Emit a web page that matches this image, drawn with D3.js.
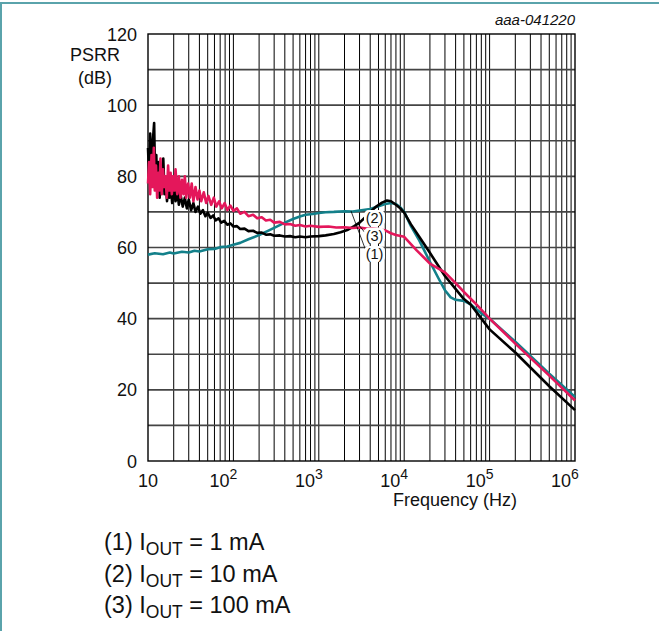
<!DOCTYPE html>
<html>
<head>
<meta charset="utf-8">
<script src="https://cdn.jsdelivr.net/npm/d3@7"></script>
<style>
  body { margin: 0; padding: 0; background: #fff; }
  svg { display: block; font-family: Arial, "Liberation Sans", sans-serif; }
</style>
</head>
<body>
<svg id="chart" width="659" height="631"></svg>
<script>
// axis ticks
const yTicks = [0, 20, 40, 60, 80, 100, 120];
const xDecades = [1, 2, 3, 4, 5, 6];

// (1) IOUT = 1 mA  -> black
const curve1 = [
  [10, 88], [10.3, 80], [10.6, 92], [11, 82], [11.4, 90], [11.8, 95], [12.1, 80], [12.5, 86],
  [12.9, 76], [13.3, 84], [13.7, 74], [14.1, 80], [14.6, 76], [15.1, 85], [15.6, 75], [16.1, 79],
  [16.7, 73], [17.3, 78], [17.9, 74], [18.5, 77], [19.2, 72.5], [20, 77], [21, 73], [22, 76],
  [23, 72], [24, 75], [25.5, 71.5], [27, 74], [28.5, 71], [30, 73.5], [32, 70.5], [34, 72.5],
  [36, 70], [38.5, 71.5], [41, 69.5], [44, 70.5], [47, 68.8], [50, 69.8], [54, 68.3], [58, 69],
  [62, 67.6], [67, 68.2], [72, 67], [78, 67.5], [85, 66.4], [92, 66.8], [100, 65.9], [110, 66],
  [120, 65.2], [135, 65.3], [150, 64.6], [170, 64.7], [190, 64.1], [215, 64.2], [240, 63.6],
  [270, 63.7], [300, 63.3], [350, 63.4], [400, 63.1], [460, 63.2], [530, 62.9], [600, 63.1],
  [700, 62.9], [800, 63.1], [1000, 63.2], [1200, 63.4], [1500, 63.8], [1800, 64.3], [2200, 65],
  [2600, 66], [3000, 67], [3500, 68.5], [4000, 70], [4700, 71.5], [5500, 72.6], [6300, 73.2],
  [7000, 73], [8000, 72], [9000, 71], [10000, 69.8], [12000, 66.5], [15000, 63], [20000, 58.5],
  [30000, 52], [50000, 45.5], [60000, 44], [100000, 37], [200000, 30.5], [500000, 21], [1000000, 14.3]
];

// (2) IOUT = 10 mA -> teal
const curve2 = [
  [10, 58], [12, 58.4], [15, 58.1], [18, 58.6], [20, 58.3], [25, 58.8], [30, 58.6], [35, 59.1],
  [40, 58.9], [50, 59.5], [60, 59.6], [70, 60.1], [85, 60.3], [100, 60.8], [120, 61.3],
  [150, 62.3], [200, 63.5], [250, 64.6], [300, 65.5], [400, 67], [500, 68], [600, 68.7],
  [700, 69.2], [850, 69.4], [1000, 69.7], [1200, 69.9], [1500, 70], [2000, 70.2], [2500, 70.1],
  [3000, 70.4], [4000, 70.8], [5000, 71.6], [6000, 72.2], [7000, 72.5], [8000, 72.2], [9000, 71.3],
  [10000, 70], [12000, 66], [15000, 62], [20000, 56], [25000, 51.5], [30000, 48], [35000, 46],
  [40000, 45.3], [50000, 45], [60000, 44], [80000, 41.5], [100000, 40], [200000, 33.5],
  [500000, 24.5], [1000000, 18]
];

// (3) IOUT = 100 mA -> pink
const curve3 = [
  [10, 78], [10.3, 84], [10.6, 75], [11, 86], [11.3, 77], [11.7, 88], [12, 76], [12.4, 83],
  [12.8, 74], [13.2, 81], [13.6, 76], [14, 85], [14.5, 75], [15, 82], [15.5, 77], [16, 80],
  [16.6, 74], [17.2, 83], [17.8, 76], [18.4, 81], [19, 75], [19.7, 80], [20.4, 76], [21, 82],
  [22, 75], [23, 80], [24, 74], [25, 79], [26, 75], [27, 80], [28, 74], [29.5, 78], [31, 74],
  [32.5, 78], [34, 73], [36, 77], [38, 73.5], [40, 76], [42, 73], [45, 75.5], [48, 72.5],
  [51, 74.5], [55, 72], [59, 74], [63, 71.5], [68, 73], [73, 71], [79, 72.5], [85, 70.5],
  [92, 71.8], [100, 70.3], [110, 71], [120, 69.5], [135, 70], [150, 68.8], [170, 69.2],
  [190, 68.2], [215, 68.5], [240, 67.6], [270, 67.8], [300, 67], [350, 67.2], [400, 66.5],
  [460, 66.6], [530, 66.1], [600, 66.3], [700, 65.9], [800, 66.1], [1000, 65.8], [1300, 65.9],
  [1600, 65.6], [2000, 65.7], [2500, 65.5], [3000, 65.6], [3600, 65.3], [4200, 65.4], [5000, 65.2],
  [6000, 64.8], [7000, 64], [8000, 63.5], [10000, 63], [14000, 59.2], [20000, 55.5], [30000, 53],
  [40000, 50], [50000, 47.5], [70000, 44], [100000, 40], [200000, 33], [500000, 24], [1000000, 17]
];

const series = [
  { data: curve2, color: '#13808a' },
  { data: curve1, color: '#000000' },
  { data: curve3, color: '#e4175b' }
];

const legendLines = [
  { num: '(1)', value: '1 mA' },
  { num: '(2)', value: '10 mA' },
  { num: '(3)', value: '100 mA' }
];

const svg = d3.select('#chart');

// frame
svg.append('line').attr('x1', 0).attr('x2', 659).attr('y1', 3).attr('y2', 3)
  .attr('stroke', '#5aa3ab').attr('stroke-width', 2);
svg.append('line').attr('x1', 1).attr('x2', 1).attr('y1', 3).attr('y2', 631)
  .attr('stroke', '#5aa3ab').attr('stroke-width', 2);

const x = d3.scaleLog().domain([10, 1e6]).range([148, 575]);
const y = d3.scaleLinear().domain([0, 120]).range([461, 34]);

// grid
const grid = svg.append('g');
const minorX = x.ticks().filter(v => v > 10 && v < 1e6);
grid.selectAll('.vx').data(minorX).enter().append('line')
  .attr('x1', d => x(d)).attr('x2', d => x(d))
  .attr('y1', y(120)).attr('y2', y(0))
  .attr('stroke', '#000').attr('stroke-width', 1);
grid.selectAll('.hy').data(d3.range(10, 120, 10)).enter().append('line')
  .attr('x1', x(10)).attr('x2', x(1e6))
  .attr('y1', d => y(d)).attr('y2', d => y(d))
  .attr('stroke', '#444').attr('stroke-width', 1.6);
grid.append('rect')
  .attr('x', x(10)).attr('y', y(120))
  .attr('width', x(1e6) - x(10)).attr('height', y(0) - y(120))
  .attr('fill', 'none').attr('stroke', '#000').attr('stroke-width', 1.4);

// curves
const line = d3.line().x(d => x(d[0])).y(d => y(d[1]));
series.forEach(s => {
  svg.append('path').datum(s.data)
    .attr('fill', 'none').attr('stroke', s.color)
    .attr('stroke-width', 2.6).attr('stroke-linejoin', 'round')
    .attr('d', line);
});

// y labels
svg.selectAll('.yl').data(yTicks).enter().append('text')
  .attr('x', 137).attr('y', d => y(d) + 6.5)
  .attr('text-anchor', 'end').attr('font-size', 18).attr('fill', '#111')
  .text(d => d);

svg.append('text').attr('x', 95).attr('y', 61).attr('text-anchor', 'middle')
  .attr('font-size', 18).attr('fill', '#111').text('PSRR');
svg.append('text').attr('x', 95).attr('y', 84).attr('text-anchor', 'middle')
  .attr('font-size', 18).attr('fill', '#111').text('(dB)');

// x labels
xDecades.forEach(p => {
  const t = svg.append('text').attr('y', 487).attr('font-size', 18).attr('fill', '#111');
  if (p === 1) {
    t.attr('x', x(10)).attr('text-anchor', 'middle').text('10');
  } else {
    t.attr('x', x(Math.pow(10, p)) - 10).attr('text-anchor', 'middle');
    t.append('tspan').text('10');
    t.append('tspan').attr('dy', -8).attr('font-size', 14).text(p);
  }
});
svg.append('text').attr('x', 393).attr('y', 506).attr('font-size', 18).attr('fill', '#111')
  .text('Frequency (Hz)');

svg.append('text').attr('x', 575).attr('y', 25).attr('text-anchor', 'end')
  .attr('font-size', 15).attr('font-style', 'italic').attr('fill', '#111')
  .text('aaa-041220');

// curve callouts
svg.append('line').attr('x1', 351).attr('y1', 211).attr('x2', 366).attr('y2', 251)
  .attr('stroke', '#000').attr('stroke-width', 0.8);
svg.append('line').attr('x1', 358).attr('y1', 224).attr('x2', 366).attr('y2', 234)
  .attr('stroke', '#000').attr('stroke-width', 0.8);
const callouts = [
  { label: '(2)', cy: 218 },
  { label: '(3)', cy: 235.5 },
  { label: '(1)', cy: 254 }
];
callouts.forEach(c => {
  svg.append('rect').attr('x', 364).attr('y', c.cy - 8).attr('width', 21).attr('height', 16)
    .attr('rx', 5).attr('fill', '#fff');
  svg.append('text').attr('x', 374.5).attr('y', c.cy + 5).attr('text-anchor', 'middle')
    .attr('font-size', 14.5).attr('fill', '#111').text(c.label);
});

// legend notes
legendLines.forEach((l, i) => {
  const t = svg.append('text').attr('x', 104).attr('y', 550 + i * 31.5)
    .attr('font-size', 23.5).attr('fill', '#111');
  t.append('tspan').text(l.num + ' I');
  t.append('tspan').attr('dy', 5).attr('font-size', 17.5).text('OUT');
  t.append('tspan').attr('dy', -5).text(' = ' + l.value);
});
</script>
</body>
</html>
